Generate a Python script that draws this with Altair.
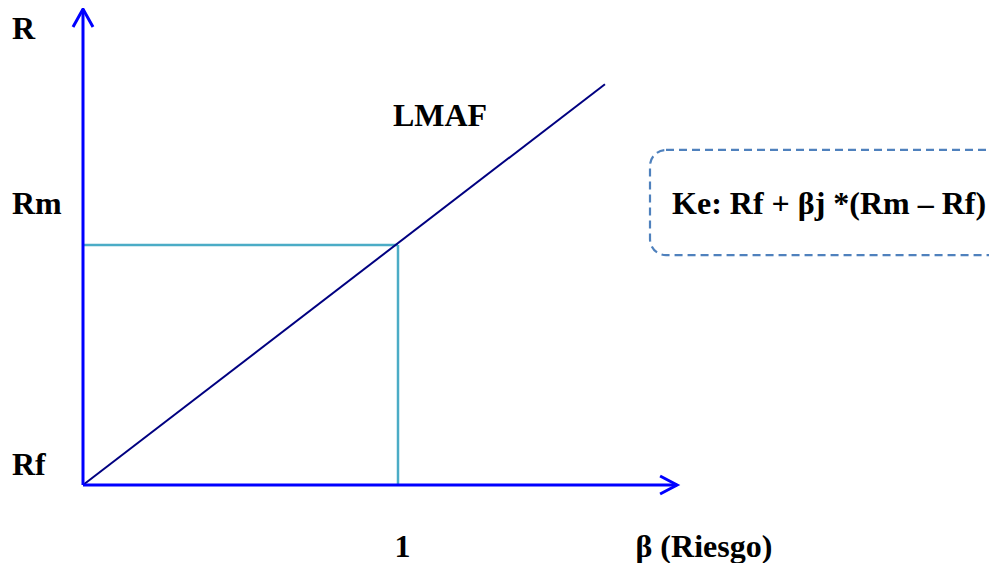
import altair as alt
import pandas as pd

# ---- data (diagram values in beta / return units) ----
sml_beta = [0.0, 1.657]
sml_ret = [0.0, 1.67]

market_beta = 1.0
market_ret = 1.0

axis_x_end = 1.886
axis_y_end = 1.983

label_text = ["R", "Rm", "Rf", "LMAF", "β (Riesgo)", "Ke: Rf + βj *(Rm – Rf)"]
label_beta = [-0.2254, -0.2254, -0.2254, 0.984, 1.754, 1.870]
label_ret = [1.858, 1.129, 0.0417, 1.496, -0.30, 1.129]

tick_text = ["1"]
tick_beta = [1.014]
tick_ret = [-0.300]

box_beta = [1.80, 2.95]
box_ret = [0.958, 1.396]

XDOM = [-0.2381, 2.8762]
YDOM = [-0.325, 1.9875]

xs = alt.Scale(domain=XDOM, nice=False, zero=False)
ys = alt.Scale(domain=YDOM, nice=False, zero=False)

AXIS_BLUE = "#0000FF"
FONT = "'Liberation Serif', 'Times New Roman', Times, serif"

# axes lines
axes_df = pd.DataFrame({
    "x": [0.0, 0.0], "x2": [0.0, axis_x_end],
    "y": [0.0, 0.0], "y2": [axis_y_end, 0.0],
})
axes = alt.Chart(axes_df).mark_rule(color=AXIS_BLUE, strokeWidth=3).encode(
    x=alt.X("x:Q", scale=xs, axis=None),
    x2="x2:Q",
    y=alt.Y("y:Q", scale=ys, axis=None),
    y2="y2:Q",
)

# arrow heads
up_df = pd.DataFrame({"x": [0.0], "y": [axis_y_end]})
up_arrow = alt.Chart(up_df).mark_point(
    shape="M-1,1.8L0,0L1,1.8", size=400, filled=False,
    color=AXIS_BLUE, strokeWidth=3, opacity=1,
).encode(x=alt.X("x:Q", scale=xs, axis=None), y=alt.Y("y:Q", scale=ys, axis=None))

right_df = pd.DataFrame({"x": [axis_x_end], "y": [0.0]})
right_arrow = alt.Chart(right_df).mark_point(
    shape="M-1.7,-0.9L0,0L-1.7,0.9", size=400, filled=False,
    color=AXIS_BLUE, strokeWidth=3, opacity=1,
).encode(x=alt.X("x:Q", scale=xs, axis=None), y=alt.Y("y:Q", scale=ys, axis=None))

# market guide lines
guide_df = pd.DataFrame({
    "x": [0.0, market_beta], "x2": [market_beta, market_beta],
    "y": [market_ret, 0.0], "y2": [market_ret, market_ret],
})
guides = alt.Chart(guide_df).mark_rule(color="#4BACC6", strokeWidth=2.5).encode(
    x=alt.X("x:Q", scale=xs, axis=None),
    x2="x2:Q",
    y=alt.Y("y:Q", scale=ys, axis=None),
    y2="y2:Q",
)

# security market line
sml_df = pd.DataFrame({"beta": sml_beta, "ret": sml_ret})
sml = alt.Chart(sml_df).mark_line(color="#000080", strokeWidth=2).encode(
    x=alt.X("beta:Q", scale=xs, axis=None),
    y=alt.Y("ret:Q", scale=ys, axis=None),
)

# dashed rounded box
box_df = pd.DataFrame({"x": [box_beta[0]], "x2": [box_beta[1]],
                       "y": [box_ret[0]], "y2": [box_ret[1]]})
box = alt.Chart(box_df).mark_rect(
    cornerRadius=16, fill="white", fillOpacity=0, stroke="#4F81BD",
    strokeWidth=2.2, strokeDash=[8, 5],
).encode(
    x=alt.X("x:Q", scale=xs, axis=None), x2="x2:Q",
    y=alt.Y("y:Q", scale=ys, axis=None), y2="y2:Q",
)

# labels
lab_df = pd.DataFrame({"t": label_text, "x": label_beta, "y": label_ret})
labels = alt.Chart(lab_df).mark_text(
    font=FONT, fontWeight="bold", fontSize=32, color="black",
    align="left", baseline="alphabetic",
).encode(
    x=alt.X("x:Q", scale=xs, axis=None),
    y=alt.Y("y:Q", scale=ys, axis=None),
    text="t:N",
)

tick_df = pd.DataFrame({"t": tick_text, "x": tick_beta, "y": tick_ret})
ticks = alt.Chart(tick_df).mark_text(
    font=FONT, fontWeight="bold", fontSize=32, color="black",
    align="center", baseline="alphabetic",
).encode(
    x=alt.X("x:Q", scale=xs, axis=None),
    y=alt.Y("y:Q", scale=ys, axis=None),
    text="t:N",
)

chart = alt.layer(
    box, guides, sml, axes, up_arrow, right_arrow, labels, ticks
).properties(
    width=981, height=555, padding=0, autosize=alt.AutoSizeParams(type="none"),
    background="white",
).configure_view(stroke=None)

chart.save("out.html", embed_options={"renderer": "svg", "actions": False})
